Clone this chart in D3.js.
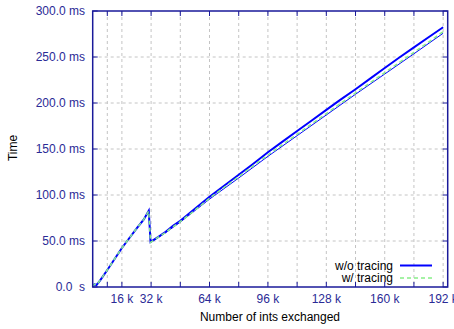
<!DOCTYPE html>
<html>
<head>
<meta charset="utf-8">
<script src="https://cdn.jsdelivr.net/npm/d3@7"></script>
<style>
  body { margin: 0; background: #fff; }
  text { font-family: "Liberation Sans", Arial, sans-serif; }
</style>
</head>
<body>
<div id="chart"></div>
<script>
// x in k ints, y in ms
var woTracing = [
	[0, 1], [1, 3], [2, 2], [4, 7], [8, 18.5], [12, 30.5], [16, 42.4], [20, 53],
	[24, 63.5], [28, 73.5], [30.7, 83],
	[31.7, 49], [36, 54.5], [40, 60], [44, 66.5], [48, 72], [56, 85], [64, 98],
	[72, 110], [80, 122], [88, 134], [96, 146.5], [104, 158], [112, 169.5],
	[120, 181], [128, 192.5], [136, 204], [144, 215], [152, 226.5], [160, 238],
	[168, 249.5], [176, 260.5], [184, 271.5], [192, 282.3]
];
var woTracing2 = [
	[0, 1], [1, 3], [2, 2], [4, 7], [8, 18.5], [12, 30.5], [16, 42.4], [20, 53],
	[24, 63.5], [28, 73.5], [30.7, 83],
	[31.7, 48.5], [40, 59], [48, 70.5], [56, 83], [64, 95.5], [80, 118.5],
	[96, 142], [112, 164.5], [128, 187], [144, 209.5], [160, 231.5],
	[176, 253.5], [192, 275.8]
];
var wTracing = [
	[0, 1], [1, 3], [2, 2], [4, 7], [8, 18.5], [12, 30.5], [16, 42.4], [20, 53],
	[24, 63.5], [28, 73.5], [30.7, 82.5],
	[31.7, 48.5], [40, 59.5], [48, 71], [56, 83.5], [64, 96.5], [80, 120],
	[96, 143.5], [112, 166], [128, 188.5], [144, 211], [160, 233],
	[176, 255], [192, 277.5]
];
var xTicks = [8, 16, 32, 48, 64, 80, 96, 112, 128, 144, 160, 176, 192];
var xLabelled = [16, 32, 64, 96, 128, 160, 192];
var yTicks = [0, 50, 100, 150, 200, 250, 300];

var W = 454, H = 329;
var pLeft = 92.7, pTop = 11, pRight = 447.7, pBottom = 287;
var axisColor = "#1a1a9a", labelColor = "#2a2a96";

var svg = d3.select("#chart").append("svg")
	.attr("width", W)
	.attr("height", H);

var x = d3.scaleLinear().domain([0, 194.5]).range([pLeft, pRight]);
var y = d3.scaleLinear().domain([0, 300]).range([pBottom, pTop]);

// grid
svg.append("g").selectAll("line").data(xTicks).enter().append("line")
	.attr("x1", function(d) { return x(d); }).attr("x2", function(d) { return x(d); })
	.attr("y1", pTop).attr("y2", pBottom)
	.attr("stroke", "#c4c4c4").attr("stroke-dasharray", "3,3");
svg.append("g").selectAll("line").data(yTicks.slice(1, -1)).enter().append("line")
	.attr("x1", pLeft).attr("x2", pRight)
	.attr("y1", function(d) { return y(d); }).attr("y2", function(d) { return y(d); })
	.attr("stroke", "#c4c4c4").attr("stroke-dasharray", "3,3");

// tick marks (inward, mirrored)
var ticks = svg.append("g").attr("stroke", axisColor).attr("stroke-width", 1);
xTicks.forEach(function(d) {
	ticks.append("line").attr("x1", x(d)).attr("x2", x(d)).attr("y1", pBottom).attr("y2", pBottom - 5);
	ticks.append("line").attr("x1", x(d)).attr("x2", x(d)).attr("y1", pTop).attr("y2", pTop + 5);
});
yTicks.forEach(function(d) {
	ticks.append("line").attr("x1", pLeft).attr("x2", pLeft + 5).attr("y1", y(d)).attr("y2", y(d));
	ticks.append("line").attr("x1", pRight).attr("x2", pRight - 5).attr("y1", y(d)).attr("y2", y(d));
});

// tick labels
svg.append("g").selectAll("text").data(xLabelled).enter().append("text")
	.attr("x", function(d) { return x(d); })
	.attr("y", 303)
	.attr("text-anchor", "middle")
	.attr("font-size", 12)
	.attr("fill", labelColor)
	.text(function(d) { return d + " k"; });
svg.append("g").selectAll("text").data(yTicks).enter().append("text")
	.attr("x", 85)
	.attr("y", function(d) { return y(d) + 4; })
	.attr("text-anchor", "end")
	.attr("font-size", 12)
	.attr("fill", labelColor)
	.style("white-space", "pre")
	.text(function(d) { return d == 0 ? "0.0  s" : d.toFixed(1) + " ms"; });

// axis titles
svg.append("text")
	.attr("x", 270).attr("y", 321)
	.attr("text-anchor", "middle").attr("font-size", 12).attr("fill", "#000")
	.text("Number of ints exchanged");
svg.append("text")
	.attr("transform", "translate(17," + 148 + ") rotate(-90)")
	.attr("text-anchor", "middle").attr("font-size", 12).attr("fill", "#000")
	.text("Time");

// lines
var line = d3.line()
	.x(function(d) { return x(d[0]); })
	.y(function(d) { return y(d[1]); });

svg.append("path").datum(woTracing2)
	.attr("d", line).attr("fill", "none")
	.attr("stroke", "#0000ff").attr("stroke-width", 1);
svg.append("path").datum(woTracing)
	.attr("d", line).attr("fill", "none")
	.attr("stroke", "#0000ff").attr("stroke-width", 2);
svg.append("path").datum(wTracing)
	.attr("d", line).attr("fill", "none")
	.attr("stroke", "#88ee88").attr("stroke-width", 1.5)
	.attr("stroke-dasharray", "4,3");

// border
svg.append("rect")
	.attr("x", pLeft).attr("y", pTop)
	.attr("width", pRight - pLeft).attr("height", pBottom - pTop)
	.attr("fill", "none").attr("stroke", axisColor).attr("stroke-width", 1.5);

// legend
var legend = [["w/o tracing", "#0000ff", null, 2], ["w/ tracing", "#88ee88", "4,3", 1.5]];
legend.forEach(function(l, i) {
	var ly = 265.5 + i * 12.5;
	svg.append("text")
		.attr("x", 393).attr("y", ly + 4)
		.attr("text-anchor", "end").attr("font-size", 12).attr("fill", "#000")
		.text(l[0]);
	svg.append("line")
		.attr("x1", 400).attr("x2", 432).attr("y1", ly).attr("y2", ly)
		.attr("stroke", l[1]).attr("stroke-width", l[3])
		.attr("stroke-dasharray", l[2]);
});
</script>
</body>
</html>
